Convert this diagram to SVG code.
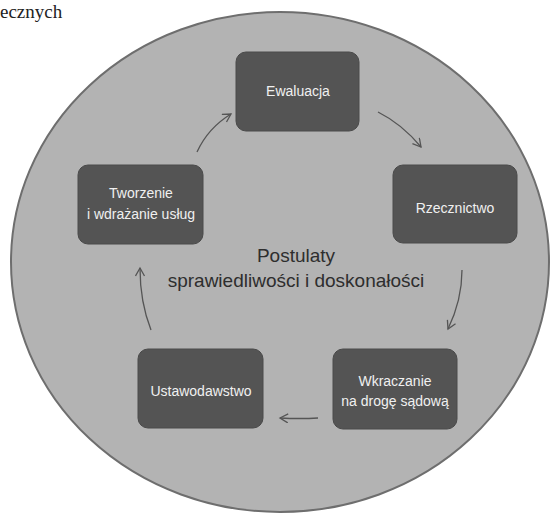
<svg xmlns="http://www.w3.org/2000/svg" width="558" height="513" viewBox="0 0 558 513">
<defs>
<style>
.box{fill:#545454;stroke:#4a4a4a;stroke-width:1}
.lbl{font-family:"Liberation Sans",Arial,sans-serif;font-size:14px;fill:#f0f0f0;text-anchor:middle}
.ctr{font-family:"Liberation Sans",Arial,sans-serif;font-size:19px;fill:#2e2e2e;text-anchor:middle}
.arr{fill:none;stroke:#555;stroke-width:1.3;marker-end:url(#ah)}
</style>
<marker id="ah" markerWidth="12" markerHeight="12" refX="9" refY="5" orient="auto" markerUnits="userSpaceOnUse">
<path d="M1,0.5 L9,5 L1,9.5" fill="none" stroke="#555" stroke-width="1.3"/>
</marker>
</defs>
<rect width="558" height="513" fill="#fff"/>
<text x="0" y="18" font-family="Liberation Serif,'Times New Roman',serif" font-size="19" fill="#222">ecznych</text>
<ellipse cx="280" cy="262" rx="269" ry="250" fill="#b3b3b3" stroke="#6e6e6e" stroke-width="2"/>
<g id="connectors">
<path class="arr" d="M197,152 Q208,128 231,114"/>
<path class="arr" d="M378,112 Q402,124 421,147"/>
<path class="arr" d="M462,270 Q462,300 448,329"/>
<path class="arr" d="M318,418 Q300,419 280,418"/>
<path class="arr" d="M151,330 Q140,302 140,268"/>
</g>
<g id="center">
<text class="ctr" x="296" y="262">Postulaty</text>
<text class="ctr" x="296" y="287">sprawiedliwości i doskonałości</text>
</g>
<g id="ewaluacja">
<rect class="box" x="236" y="52" width="123" height="79" rx="10"/>
<text class="lbl" x="298" y="96">Ewaluacja</text>
</g>
<g id="rzecznictwo">
<rect class="box" x="393" y="165" width="124" height="78" rx="10"/>
<text class="lbl" x="455" y="213">Rzecznictwo</text>
</g>
<g id="wkraczanie">
<rect class="box" x="333" y="349" width="124" height="80" rx="10"/>
<text class="lbl" x="395" y="386">Wkraczanie</text>
<text class="lbl" x="395" y="406">na drogę sądową</text>
</g>
<g id="ustawodawstwo">
<rect class="box" x="138" y="349" width="125" height="79" rx="10"/>
<text class="lbl" x="201" y="396">Ustawodawstwo</text>
</g>
<g id="tworzenie">
<rect class="box" x="78" y="165" width="125" height="79" rx="10"/>
<text class="lbl" x="141" y="198">Tworzenie</text>
<text class="lbl" x="141" y="219">i wdrażanie usług</text>
</g>
</svg>
